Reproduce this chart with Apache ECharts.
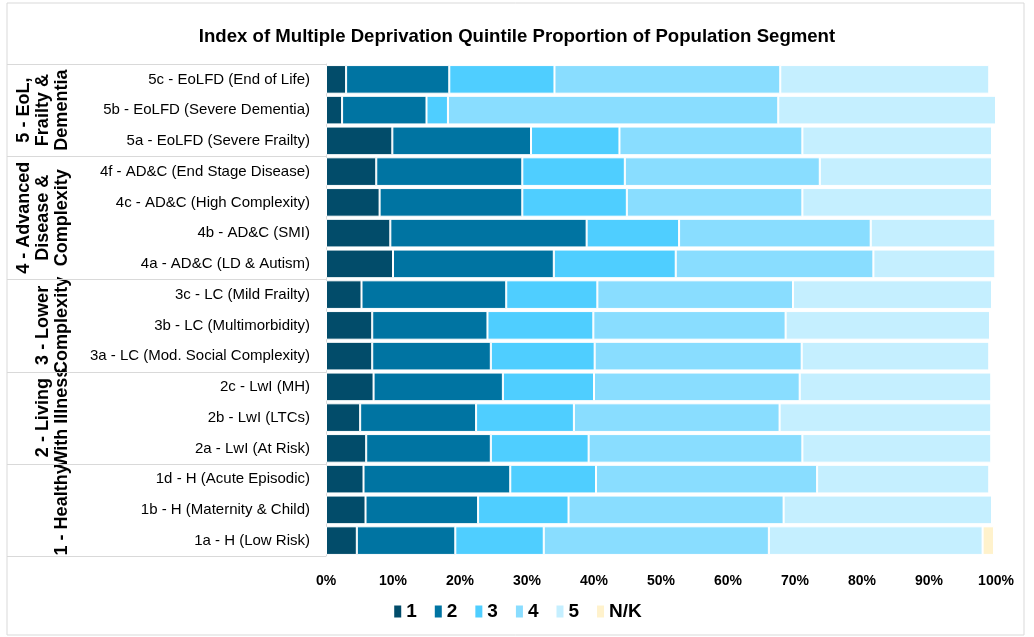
<!DOCTYPE html>
<html>
<head>
<meta charset="utf-8">
<script src="https://cdn.jsdelivr.net/npm/echarts@6/dist/echarts.min.js"></script>
<style>
  html, body { margin: 0; padding: 0; background: #fff; }
  #chart { width: 1034px; height: 637px; }
</style>
</head>
<body>
<div id="chart"></div>
<script>
// 分类（从上到下）
const categories = [
  '5c - EoLFD (End of Life)',
  '5b - EoLFD (Severe Dementia)',
  '5a - EoLFD (Severe Frailty)',
  '4f - AD&C (End Stage Disease)',
  '4c - AD&C (High Complexity)',
  '4b - AD&C (SMI)',
  '4a - AD&C (LD & Autism)',
  '3c - LC (Mild Frailty)',
  '3b - LC (Multimorbidity)',
  '3a - LC (Mod. Social Complexity)',
  '2c - LwI (MH)',
  '2b - LwI (LTCs)',
  '2a - LwI (At Risk)',
  '1d - H (Acute Episodic)',
  '1b - H (Maternity & Child)',
  '1a - H (Low Risk)',
];
const groupNames = [
  '5 - EoL,\nFrailty &\nDementia',
  '4 - Advanced\nDisease &\nComplexity',
  '3 - Lower\nComplexity',
  '2 - Living\nWith Illness',
  '1 - Healthy',
];
const groupSizes = [3, 4, 3, 3, 3];

const seriesNames = ['1', '2', '3', '4', '5', 'N/K'];
const q1 = [3.0, 2.4, 9.9, 7.5, 8.0, 9.6, 10.0, 5.3, 6.9, 6.9, 7.1, 5.1, 6.0, 5.6, 5.9, 4.6];
const q2 = [15.4, 12.6, 20.7, 21.8, 21.3, 29.3, 24.0, 21.6, 17.2, 17.7, 19.3, 17.3, 18.6, 21.9, 16.8, 14.7];
const q3 = [15.7, 3.2, 13.2, 15.3, 15.6, 13.8, 18.2, 13.6, 15.8, 15.5, 13.6, 14.6, 14.6, 12.8, 13.5, 13.2];
const q4 = [33.7, 49.3, 27.3, 29.1, 26.2, 28.6, 29.5, 29.2, 28.7, 30.9, 30.7, 30.7, 31.9, 33.0, 32.1, 33.6];
const q5 = [31.2, 32.5, 28.3, 25.7, 28.3, 18.6, 18.2, 29.7, 30.5, 28.0, 28.6, 31.6, 28.2, 25.7, 31.1, 31.9];
const nk = [0, 0, 0, 0, 0, 0, 0, 0, 0, 0, 0, 0, 0, 0, 0, 1.7];
const xTicks = [0, 10, 20, 30, 40, 50, 60, 70, 80, 90, 100];

const colors = ['#024C6A', '#0074A2', '#4FCEFF', '#89DDFF', '#C5EFFF', '#FFF2CC'];
const font = "'Liberation Sans', Arial, sans-serif";
const lineColor = '#D9D9D9';

const chart = echarts.init(document.getElementById('chart'));

function getOptions() {
  const values = [q1, q2, q3, q4, q5, nk];
  return {
    animation: false,
    color: colors,
    title: {
      text: 'Index of Multiple Deprivation Quintile Proportion of Population Segment',
      left: 'center',
      top: 22,
      textStyle: {
        fontFamily: font,
        fontSize: 18.6,
        fontWeight: 'bold',
        color: '#000',
      },
    },
    grid: {
      left: 326,
      right: 38,
      top: 64,
      bottom: 81,
    },
    legend: {
      data: seriesNames,
      top: 597,
      left: 'center',
      icon: 'rect',
      itemWidth: 9,
      itemHeight: 14,
      itemGap: 16,
      textStyle: {
        fontFamily: font,
        fontSize: 19,
        fontWeight: 'bold',
        color: '#000',
        padding: [0, 0, 0, -1],
      },
    },
    xAxis: {
      type: 'value',
      min: xTicks[0],
      max: xTicks[xTicks.length - 1],
      interval: xTicks[1] - xTicks[0],
      axisLine: { show: false },
      axisTick: { show: false },
      splitLine: { show: false },
      axisLabel: {
        formatter: '{value}%',
        margin: 18,
        fontFamily: font,
        fontSize: 14,
        fontWeight: 'bold',
        color: '#000',
      },
    },
    yAxis: {
      type: 'category',
      inverse: true,
      data: categories,
      axisLine: {
        show: true,
        lineStyle: { color: lineColor },
      },
      axisTick: { show: false },
      axisLabel: {
        margin: 16,
        fontFamily: font,
        fontSize: 15,
        color: '#000',
      },
    },
    series: seriesNames.map((name, i) => ({
      name,
      type: 'bar',
      stack: 'total',
      barCategoryGap: '7%',
      itemStyle: {
        borderColor: '#fff',
        borderWidth: 1,
      },
      data: values[i],
    })),
  };
}

chart.setOption(getOptions());

// 分组标签和分隔线
function drawGroups() {
  const c0 = chart.convertToPixel({ yAxisIndex: 0 }, categories[0]);
  const c1 = chart.convertToPixel({ yAxisIndex: 0 }, categories[1]);
  const band = c1 - c0;
  const top = c0 - band / 2;
  const axisX = chart.convertToPixel({ xAxisIndex: 0 }, 0);
  const elements = [];

  // 外框
  elements.push({
    type: 'rect',
    shape: { x: 7, y: 3, width: 1017, height: 632 },
    style: { fill: null, stroke: lineColor, lineWidth: 1 },
    silent: true,
  });

  let start = 0;
  const edges = [top];
  groupNames.forEach((name, g) => {
    const end = start + groupSizes[g];
    const y0 = top + start * band;
    const y1 = top + end * band;
    edges.push(y1);
    elements.push({
      type: 'text',
      x: 72,
      y: (y0 + y1) / 2,
      rotation: Math.PI / 2,
      style: {
        text: name,
        fill: '#000',
        font: "bold 18px 'Liberation Sans', sans-serif",
        lineHeight: 19,
        textAlign: 'center',
        textVerticalAlign: 'bottom',
      },
      silent: true,
    });
    start = end;
  });

  edges.forEach((y) => {
    const yy = Math.round(y) + 0.5;
    elements.push({
      type: 'line',
      shape: { x1: 7, y1: yy, x2: axisX, y2: yy },
      style: { stroke: lineColor, lineWidth: 1 },
      silent: true,
    });
  });

  chart.setOption({ graphic: { elements } });
}

drawGroups();
</script>
</body>
</html>
